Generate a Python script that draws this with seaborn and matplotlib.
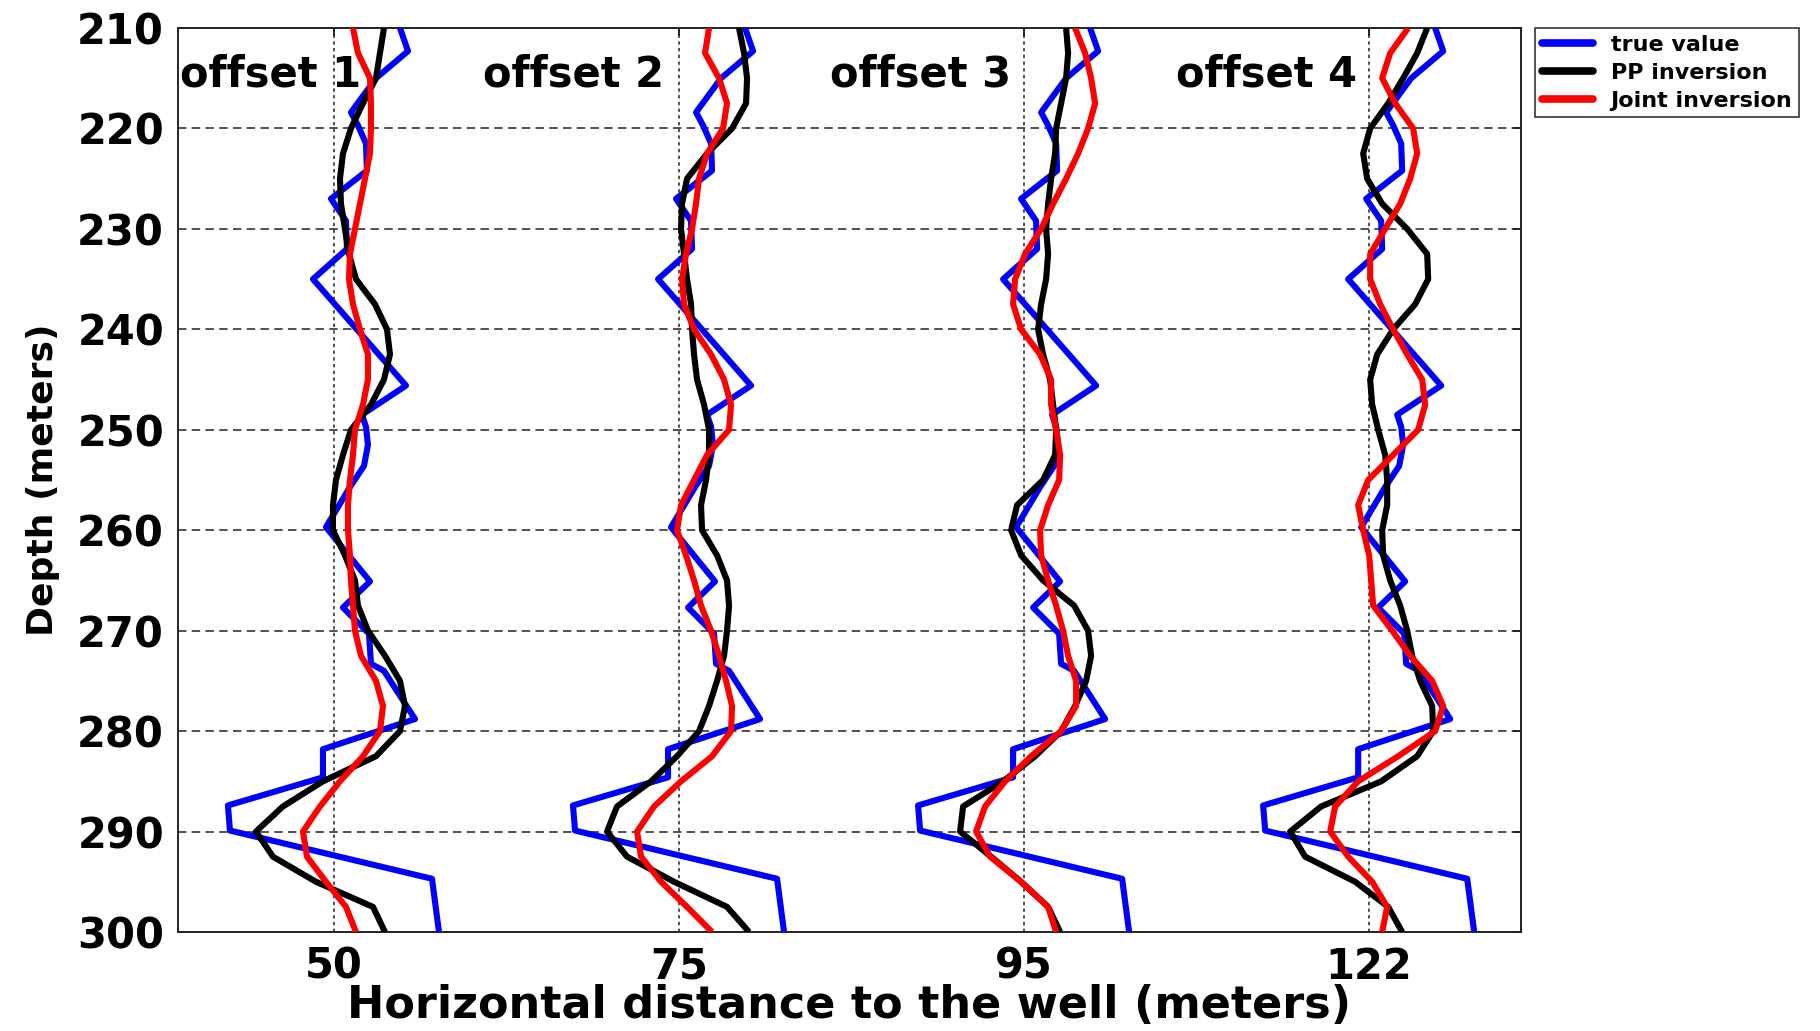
import numpy as np
import pandas as pd
import matplotlib
matplotlib.use("Agg")
import matplotlib.pyplot as plt
from matplotlib.lines import Line2D
import seaborn as sns

# ---------------- data ----------------
offset_labels = ["offset 1", "offset 2", "offset 3", "offset 4"]
xtick_labels = ["50", "75", "95", "122"]
trace_centers = [1, 2, 3, 4]
amp_scale = 1.0 / 345.0   # deviation units -> axis units

# true value (well log), same log shown at each offset
true_depth = [210.0, 212.3, 215.0, 218.4, 219.7, 221.5, 224.2, 227.0, 229.2, 232.0,
              235.0, 245.6, 248.5, 249.7, 251.5, 253.6, 255.7, 259.7, 265.1, 267.7,
              270.3, 273.3, 274.0, 278.8, 281.8, 284.6, 287.4, 289.9, 294.7, 300.0]
true_dev = [66, 74, 42, 17, 24, 32, 33, -3, 12, 13,
            -21, 72, 28, 32, 34, 30, 16, -8, 36, 9,
            35, 37, 50, 81, -11, -11, -106, -104, 98, 105]

depth = [210, 212.5, 215, 217.5, 220, 222.5, 225, 227.5, 230, 232.5,
         235, 237.5, 240, 242.5, 245, 247.5, 250, 252.5, 255, 257.5,
         260, 262.5, 265, 267.5, 270, 272.5, 275, 277.5, 280, 282.5,
         285, 287.5, 290, 292.5, 295, 297.5, 300]

pp_off1 = [50, 46, 42, 29, 17, 9, 6, 7, 11, 15,
           22, 41, 53, 56, 50, 37, 17, 9, 2, -1,
           -1, 11, 21, 24, 34, 51, 66, 71, 66, 42,
           -11, -51, -78, -61, -18, 39, 51]
joint_off1 = [19, 24, 36, 37, 37, 36, 31, 26, 21, 16,
              15, 19, 26, 34, 34, 29, 21, 19, 16, 14,
              14, 16, 17, 19, 21, 27, 42, 49, 46, 29,
              6, -14, -31, -27, -8, 12, 22]

pp_off2 = [60, 65, 68, 67, 53, 28, 8, 3, 2, 5,
           8, 12, 13, 15, 18, 25, 30, 30, 27, 22,
           23, 38, 48, 50, 48, 45, 38, 30, 20, -2,
           -28, -62, -72, -52, -5, 48, 70]
joint_off2 = [30, 26, 40, 48, 44, 28, 20, 17, 13, 7,
              3, 5, 15, 32, 45, 52, 50, 28, 15, 2,
              -2, 7, 15, 22, 32, 40, 47, 53, 52, 33,
              2, -25, -42, -38, -18, 8, 33]

pp_off3 = [42, 44, 42, 37, 32, 31, 27, 24, 22, 24,
           22, 17, 14, 19, 26, 29, 32, 31, 19, -7,
           -13, -3, 19, 50, 64, 67, 62, 51, 37, 11,
           -21, -61, -64, -33, -3, 24, 36]
joint_off3 = [51, 61, 67, 71, 64, 54, 42, 29, 17, 1,
              -9, -11, -3, 16, 27, 27, 32, 36, 35, 24,
              16, 17, 24, 32, 39, 44, 52, 52, 37, 7,
              -19, -39, -48, -34, -3, 24, 32]

pp_off4 = [58, 48, 34, 19, 1, -6, -2, 13, 38, 58,
           59, 46, 24, 8, 1, 3, 9, 16, 18, 18,
           13, 14, 21, 31, 38, 43, 51, 63, 64, 48,
           12, -48, -79, -64, -14, 19, 33]
joint_off4 = [39, 21, 13, 26, 44, 48, 41, 31, 16, 1,
              1, 11, 24, 38, 53, 56, 49, 24, -1, -11,
              -6, 0, 2, 4, 23, 41, 63, 74, 66, 29,
              -11, -34, -39, -21, 3, 18, 13]

pp_all = [pp_off1, pp_off2, pp_off3, pp_off4]
joint_all = [joint_off1, joint_off2, joint_off3, joint_off4]

series_names = ["true value", "PP inversion", "Joint inversion"]
series_colors = {"true value": "#0000ff", "PP inversion": "#000000", "Joint inversion": "#ff0000"}

# ---------------- long table ----------------
rows = []
for i, c in enumerate(trace_centers):
    for d, v in zip(true_depth, true_dev):
        rows.append(("true value", i, d, c + v * amp_scale))
    for d, v in zip(depth, pp_all[i]):
        rows.append(("PP inversion", i, d, c + v * amp_scale))
    for d, v in zip(depth, joint_all[i]):
        rows.append(("Joint inversion", i, d, c + v * amp_scale))
df = pd.DataFrame(rows, columns=["series", "trace", "depth", "x"])

# ---------------- figure ----------------
sns.set_theme(style="white")
plt.rcParams["font.family"] = ["DejaVu Sans"]
plt.rcParams["font.weight"] = "bold"
plt.rcParams["text.color"] = "black"
plt.rcParams["axes.labelcolor"] = "black"
plt.rcParams["xtick.color"] = "black"
plt.rcParams["ytick.color"] = "black"

fig = plt.figure(figsize=(18.2, 10.31), dpi=100)
ax = fig.add_axes([178 / 1820, 1 - 932 / 1031, (1521 - 178) / 1820, (932 - 28) / 1031])
ax.set_facecolor("white")

# grid
for yv in np.arange(220, 300, 10):
    ax.axhline(yv, color="#222222", lw=1.1, ls=(0, (5.5, 3.5)), zorder=1)
for xv in trace_centers:
    ax.axvline(xv, color="#222222", lw=1.1, ls=(0, (2.2, 2.2)), zorder=1)

for s in series_names:
    sub = df[df["series"] == s]
    sns.lineplot(data=sub, x="x", y="depth", units="trace", estimator=None,
                 sort=False, color=series_colors[s], linewidth=4.4,
                 solid_joinstyle="round", solid_capstyle="butt",
                 ax=ax, legend=False, zorder=3)

ax.set_xlim(0.548, 4.44)
ax.set_ylim(300, 210)
ax.set_xticks(trace_centers)
ax.set_xticklabels(xtick_labels)
ax.set_yticks(np.arange(210, 301, 10))
ax.tick_params(direction="in", length=6, width=1.2, top=True, right=True,
               labelsize=30, pad=10, colors="black")
for lab in ax.get_xticklabels() + ax.get_yticklabels():
    lab.set_fontweight("bold")

ax.set_xlabel("Horizontal distance to the well (meters)", fontsize=32, fontweight="bold",
              color="black")
ax.set_ylabel("Depth (meters)", fontsize=26, fontweight="bold", color="black")
ax.xaxis.set_label_coords(0.5, -0.058)
ax.yaxis.set_label_coords(-0.088, 0.5)

for sp in ax.spines.values():
    sp.set_color("#222222")
    sp.set_linewidth(1.4)
    sp.set_visible(True)

label_x = [0.554, 1.432, 2.438, 3.44]
for lx, txt in zip(label_x, offset_labels):
    ax.text(lx, 214.6, txt, ha="left", va="center", fontsize=30, fontweight="bold",
            color="black", zorder=4)

handles = [Line2D([0], [0], color=series_colors[s], lw=5.5) for s in series_names]
leg = fig.legend(handles, series_names, loc="upper left",
                 bbox_to_anchor=(1535 / 1820, 1 - 28 / 1031),
                 frameon=True, fancybox=False, edgecolor="black",
                 borderaxespad=0, handlelength=2.3, labelspacing=0.36,
                 borderpad=0.3, handletextpad=0.8, prop={"weight": "bold", "size": 16})
leg.get_frame().set_linewidth(1.2)

fig.savefig("out.png", dpi=100, facecolor="white")
